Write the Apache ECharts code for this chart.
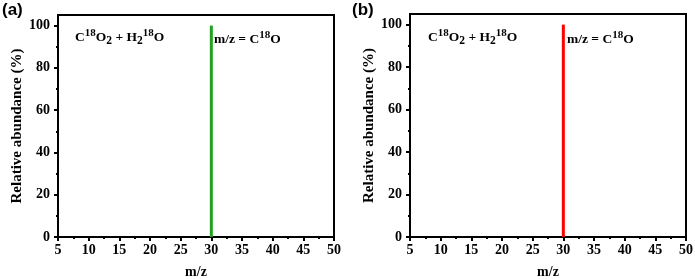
<!DOCTYPE html>
<html>
<head>
<meta charset="utf-8">
<script src="https://cdn.jsdelivr.net/npm/echarts@6/dist/echarts.min.js"></script>
<style>
html,body{margin:0;padding:0;background:#fff;}
#c{width:695px;height:279px;}
</style>
</head>
<body>
<div id="c"></div>
<script>
// ---- data ----
var panelLabels = ['(a)', '(b)'];
var peakMzA = [30];
var peakAbundanceA = [100];
var peakMzB = [30];
var peakAbundanceB = [100];
var xMin = 5, xMax = 50, xInterval = 5;
var yMin = 0, yMax = 105;
var yMajorTicks = [0, 20, 40, 60, 80, 100];
var yMinorTicks = [10, 30, 50, 70, 90];
var xName = 'm/z';
var yName = 'Relative abundance (%)';
var colors = ['#22a022', '#ff0000'];

var serif = '"Liberation Serif", "Times New Roman", serif';
var chart = echarts.init(document.getElementById('c'), null, {renderer: 'canvas'});

var grids = [
  {left: 58, right: 361, top: 15, bottom: 42},
  {left: 410, right: 9, top: 14, bottom: 42}
];

function mkGrid(g) {
  return Object.assign({show: true, borderColor: '#000', borderWidth: 2, backgroundColor: 'transparent', outerBoundsMode: 'none'}, g);
}

var xAxes = [], yAxes = [], series = [];
var peaks = [[peakMzA, peakAbundanceA], [peakMzB, peakAbundanceB]];
for (var i = 0; i < 2; i++) {
  xAxes.push({
    type: 'value', gridIndex: i, min: xMin, max: xMax, interval: xInterval,
    name: xName, nameLocation: 'middle', nameGap: 28,
    nameTextStyle: {fontFamily: serif, fontWeight: 'bold', fontSize: 14, color: '#000'},
    axisLine: {show: true, lineStyle: {color: '#000', width: 2}},
    axisTick: {show: true, inside: false, length: 4, lineStyle: {color: '#000', width: 2}},
    minorTick: {show: true, splitNumber: 2, length: 2, lineStyle: {color: '#000', width: 2}},
    axisLabel: {fontFamily: serif, fontWeight: 'bold', fontSize: 14, color: '#000', margin: 6},
    splitLine: {show: false}, minorSplitLine: {show: false}
  });
  yAxes.push({
    type: 'value', gridIndex: i, min: yMin, max: yMax,
    name: yName, nameLocation: 'middle', nameGap: 31,
    nameTextStyle: {fontFamily: serif, fontWeight: 'bold', fontSize: 15, color: '#000'},
    axisLine: {show: true, lineStyle: {color: '#000', width: 2}},
    axisTick: {show: true, inside: false, length: 4, customValues: yMajorTicks, lineStyle: {color: '#000', width: 2}},
    axisLabel: {fontFamily: serif, fontWeight: 'bold', fontSize: 14, color: '#000', margin: 8, customValues: yMajorTicks},
    splitLine: {show: false}
  });
  yAxes.push({
    type: 'value', gridIndex: i, min: yMin, max: yMax, position: 'left',
    axisLine: {show: false},
    axisTick: {show: true, inside: false, length: 2, customValues: yMinorTicks, lineStyle: {color: '#000', width: 2}},
    axisLabel: {show: false},
    splitLine: {show: false}
  });
  var d = [];
  for (var k = 0; k < peaks[i][0].length; k++) d.push([peaks[i][0][k], peaks[i][1][k]]);
  series.push({
    type: 'bar', xAxisIndex: i, yAxisIndex: i * 2, data: d, barWidth: 3,
    itemStyle: {color: colors[i]}, silent: true, animation: false
  });
}

var rich = {
  b: {fontFamily: serif, fontWeight: 'bold', fontSize: 13.5, color: '#000', verticalAlign: 'middle', lineHeight: 19},
  sup: {fontFamily: serif, fontWeight: 'bold', fontSize: 11, color: '#000', verticalAlign: 'top', lineHeight: 11},
  sub: {fontFamily: serif, fontWeight: 'bold', fontSize: 11.5, color: '#000', verticalAlign: 'bottom', lineHeight: 12}
};
var reactionText = '{b|C}{sup|18}{b|O}{sub|2}{b| + H}{sub|2}{sup|18}{b|O}';
var mzText = '{b|m/z = C}{sup|18}{b|O}';

function textEl(x, y, t) {
  return {type: 'text', left: x, top: y, style: {text: t, rich: rich}, silent: true};
}

var graphic = [
  {type: 'text', left: 2, top: 2, style: {text: panelLabels[0], fontFamily: '"Liberation Sans", Arial, sans-serif', fontWeight: 'bold', fontSize: 17, fill: '#000'}},
  {type: 'text', left: 352, top: 2, style: {text: panelLabels[1], fontFamily: '"Liberation Sans", Arial, sans-serif', fontWeight: 'bold', fontSize: 17, fill: '#000'}},
  textEl(75, 28, reactionText),
  textEl(214, 30, mzText),
  textEl(428, 28, reactionText),
  textEl(567, 30, mzText)
];

chart.setOption({
  animation: false,
  grid: grids.map(mkGrid),
  xAxis: xAxes,
  yAxis: yAxes,
  series: series,
  graphic: graphic
});
</script>
</body>
</html>
